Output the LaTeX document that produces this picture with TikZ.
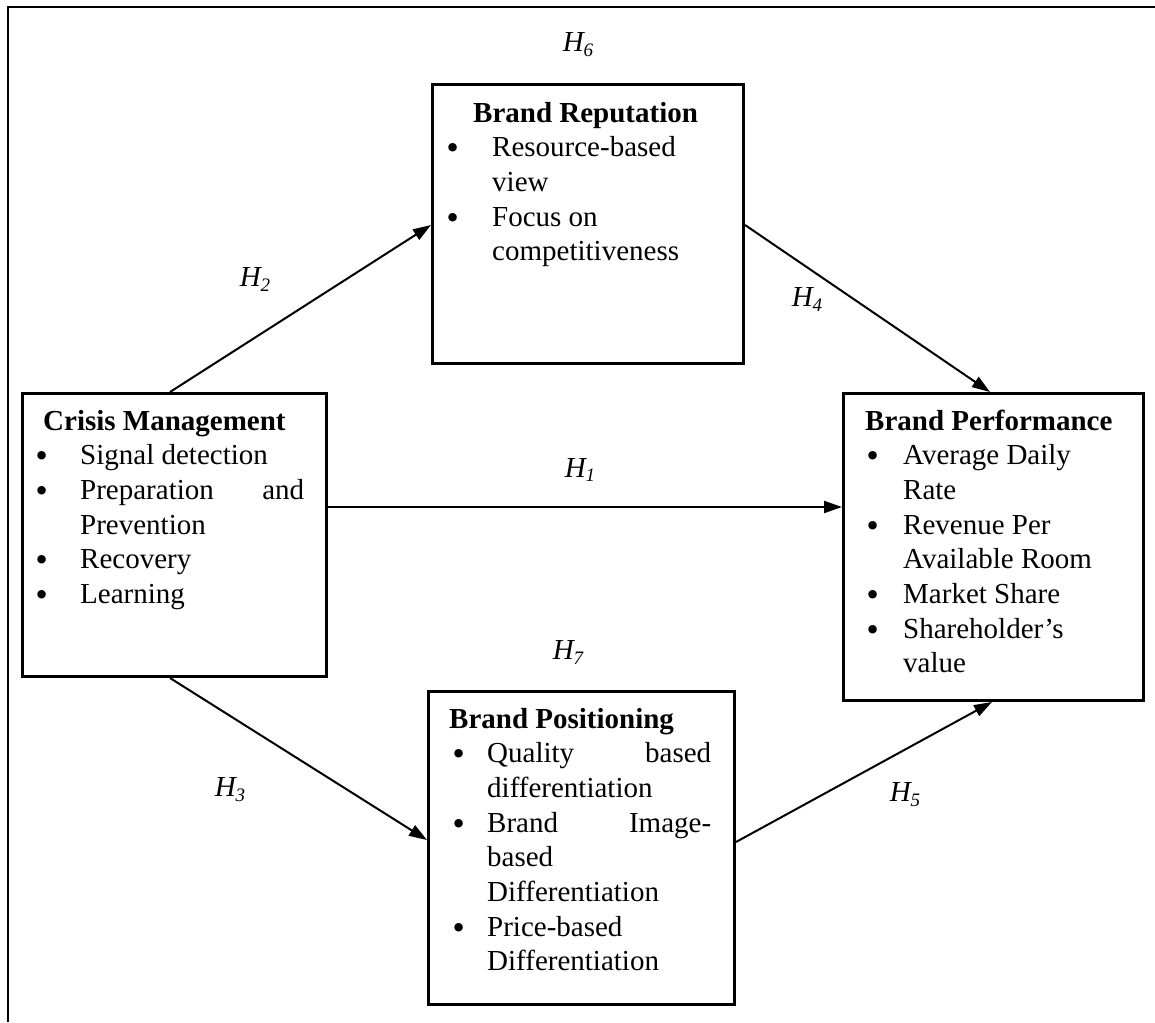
\documentclass[tikz,border=0pt]{standalone}
\usepackage{fontspec}
\setmainfont{Liberation Serif}
\newfontfamily\dotfont{DejaVu Sans}
\usetikzlibrary{arrows.meta}
% italic hypothesis label with a lowered index
\newcommand{\hyplabel}[1]{\textit{H\raisebox{-5pt}{\fontsize{19}{19}\selectfont #1}}}
% round bullet followed by a fixed indent
\newcommand{\bulletind}[1]{\makebox[#1][l]{\raisebox{-2pt}[0pt][0pt]{\dotfont •}}}
\begin{document}
\begin{tikzpicture}[x=1pt,y=-1pt,
  box/.style={draw, line width=3pt, rectangle, inner sep=0pt, anchor=north west},
  txt/.style={anchor=base west, inner sep=0pt, font=\fontsize{29}{34.7}\selectfont},
  hyp/.style={inner sep=0pt, font=\fontsize{29}{34.7}\selectfont},
  link/.style={line width=2pt, -{Triangle[length=18pt,width=12pt]}}]
\useasboundingbox (0,0) rectangle (1155,1022);
% open frame: top and left sides
\draw[line width=2pt] (8,1022) -- (8,7) -- (1155,7);

% construct boxes
\node[box, minimum width=304pt, minimum height=283pt] (crisis) at (21,392) {};
\node[box, minimum width=311pt, minimum height=279pt] (rep) at (431,83) {};
\node[box, minimum width=306pt, minimum height=313pt] (pos) at (427,690) {};
\node[box, minimum width=300pt, minimum height=307pt] (perf) at (842,392) {};

% box contents
\node[txt] (crisistxt) at (33,430) {\begin{tabular}[t]{@{}l@{}}
\hspace*{10pt}\textbf{Crisis Management}\\
\bulletind{47pt}Signal detection\\
\bulletind{47pt}\makebox[224pt][s]{Preparation\hfill and}\\
\hspace*{47pt}Prevention\\
\bulletind{47pt}Recovery\\
\bulletind{47pt}Learning
\end{tabular}};

\node[txt] (reptxt) at (444,122) {\begin{tabular}[t]{@{}l@{}}
\hspace*{29pt}\textbf{Brand Reputation}\\
\bulletind{48pt}Resource-based\\
\hspace*{48pt}view\\
\bulletind{48pt}Focus on\\
\hspace*{48pt}competitiveness
\end{tabular}};

\node[txt] (postxt) at (450,728) {\begin{tabular}[t]{@{}l@{}}
\hspace*{-1pt}\textbf{Brand Positioning}\\
\bulletind{37pt}\makebox[224pt][s]{Quality\hfill based}\\
\hspace*{37pt}differentiation\\
\bulletind{37pt}\makebox[224pt][s]{Brand\hfill Image-}\\
\hspace*{37pt}based\\
\hspace*{37pt}Differentiation\\
\bulletind{37pt}Price-based\\
\hspace*{37pt}Differentiation
\end{tabular}};

\node[txt] (perftxt) at (864,430) {\begin{tabular}[t]{@{}l@{}}
\hspace*{1pt}\textbf{Brand Performance}\\
\bulletind{39pt}Average Daily\\
\hspace*{39pt}Rate\\
\bulletind{39pt}Revenue Per\\
\hspace*{39pt}Available Room\\
\bulletind{39pt}Market Share\\
\bulletind{39pt}Shareholder’s\\
\hspace*{39pt}value
\end{tabular}};

% hypothesised paths
\draw[link] ([xshift=149pt]crisis.north west) -- ([yshift=-142pt]rep.north west);
\draw[link] ([yshift=-142pt]rep.north east) -- ([xshift=148pt]perf.north west);
\draw[link] ([yshift=-115pt]crisis.north east) -- ([yshift=-115pt]perf.north west);
\draw[link] ([xshift=149pt]crisis.south west) -- ([yshift=-150pt]pos.north west);
\draw[link] ([yshift=-152pt]pos.north east) -- ([xshift=150pt]perf.south west);

% hypothesis labels
\node[hyp] (h6) at (578,45) {\hyplabel{6}};
\node[hyp] (h2) at (255,280) {\hyplabel{2}};
\node[hyp] (h4) at (807,300) {\hyplabel{4}};
\node[hyp] (h1) at (580,470) {\hyplabel{1}};
\node[hyp] (h7) at (568,652) {\hyplabel{7}};
\node[hyp] (h3) at (230,790) {\hyplabel{3}};
\node[hyp] (h5) at (905,795) {\hyplabel{5}};
\end{tikzpicture}
\end{document}
